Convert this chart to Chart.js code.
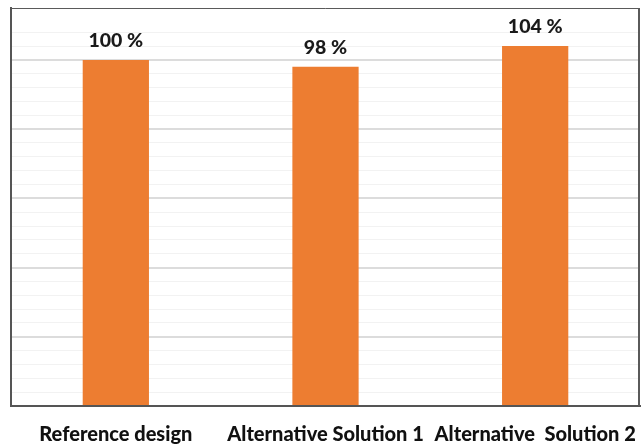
<!DOCTYPE html>
<html>
<head>
<meta charset="utf-8">
<script src="https://cdn.jsdelivr.net/npm/chart.js@4/dist/chart.umd.min.js"></script>
<style>
  html, body { margin: 0; padding: 0; background: #ffffff; }
  #wrap { width: 641px; height: 445px; }
</style>
</head>
<body>
<div id="wrap"><canvas id="c" width="641" height="445"></canvas></div>
<script>
const categories = ['Reference design', 'Alternative Solution 1', 'Alternative  Solution 2'];
const relativePerformance = [100, 98, 104];
const yMin = 0;
const yMax = 115;
const minorStep = 4;
const majorStep = 20;

const FONT = 'Lato, "Open Sans", sans-serif';

// Value labels above each bar
const valueLabels = {
  id: 'valueLabels',
  afterDatasetsDraw(chart) {
    const ctx = chart.ctx;
    const meta = chart.getDatasetMeta(0);
    ctx.save();
    ctx.font = '900 19.5px ' + FONT;
    ctx.fillStyle = '#1a1a1a';
    ctx.textAlign = 'center';
    ctx.textBaseline = 'alphabetic';
    meta.data.forEach((bar, i) => {
      const v = chart.data.datasets[0].data[i];
      ctx.fillText(v + ' %', bar.x, bar.y - 13);
    });
    ctx.restore();
  }
};

// Top and right edges of the plot frame
const frame = {
  id: 'frame',
  afterDraw(chart) {
    const a = chart.chartArea;
    const ctx = chart.ctx;
    ctx.save();
    ctx.strokeStyle = '#5a5a5a';
    ctx.lineWidth = 1;
    ctx.beginPath();
    ctx.moveTo(a.left, a.top + 0.5);
    ctx.lineTo(a.right - 0.5, a.top + 0.5);
    ctx.stroke();
    ctx.lineWidth = 2;
    ctx.beginPath();
    ctx.moveTo(a.right - 1, a.top);
    ctx.lineTo(a.right - 1, a.bottom);
    ctx.stroke();
    ctx.restore();
  }
};

new Chart(document.getElementById('c'), {
  type: 'bar',
  data: {
    labels: categories,
    datasets: [{
      data: relativePerformance,
      backgroundColor: '#ED7D31',
      borderWidth: 0,
      categoryPercentage: 1.0,
      barPercentage: 0.316
    }]
  },
  options: {
    responsive: false,
    animation: false,
    devicePixelRatio: 1,
    layout: { padding: { left: 11, top: 8, right: 1, bottom: 0 } },
    plugins: { legend: { display: false }, tooltip: { enabled: false } },
    scales: {
      x: {
        grid: { display: false, drawTicks: false },
        border: { display: true, color: '#555555', width: 2 },
        ticks: {
          color: '#111111',
          font: { family: FONT, size: 20, weight: '900' },
          padding: 17,
          maxRotation: 0,
          autoSkip: false
        },
        afterFit(scale) {
          scale.height = 39;
          scale.paddingLeft = 0;
          scale.paddingRight = 0;
        }
      },
      y: {
        min: yMin,
        max: yMax,
        ticks: { display: false, stepSize: minorStep },
        grid: {
          drawTicks: false,
          color(ctx) {
            const v = ctx.tick ? ctx.tick.value : 0;
            if (v === yMax) return 'rgba(0,0,0,0)';
            return (v % majorStep === 0) ? '#dcdcdc' : '#f2f2f2';
          },
          lineWidth(ctx) {
            const v = ctx.tick ? ctx.tick.value : 0;
            return (v % majorStep === 0) ? 2 : 1;
          }
        },
        border: { display: true, color: '#555555', width: 2 },
        afterFit(scale) { scale.width = 0; }
      }
    }
  },
  plugins: [valueLabels, frame]
});
</script>
</body>
</html>
